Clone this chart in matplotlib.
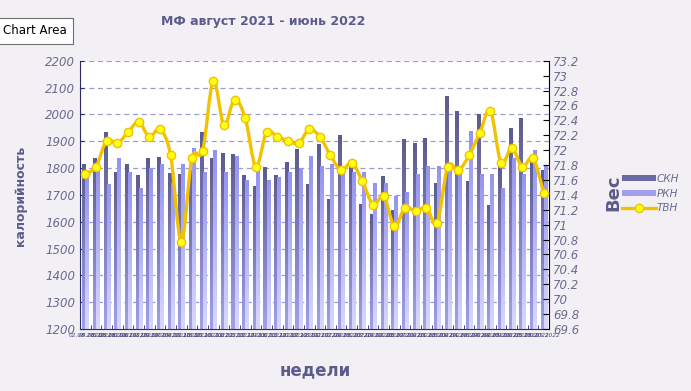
import numpy as np
import matplotlib
matplotlib.use("Agg")
import matplotlib.pyplot as plt
from matplotlib.path import Path
from matplotlib.patches import PathPatch, Patch
from matplotlib.lines import Line2D
from matplotlib.colors import LinearSegmentedColormap
from matplotlib.ticker import FuncFormatter, MultipleLocator

weeks = ["02.08.2021", "09.08.2021", "16.08.2021", "23.08.2021", "30.08.2021",
         "06.09.2021", "13.09.2021", "20.09.2021", "27.09.2021", "04.10.2021",
         "11.10.2021", "18.10.2021", "25.10.2021", "01.11.2021", "08.11.2021",
         "15.11.2021", "22.11.2021", "29.11.2021", "06.12.2021", "13.12.2021",
         "20.12.2021", "27.12.2021", "03.01.2022", "10.01.2022", "17.01.2022",
         "24.01.2022", "31.01.2022", "07.02.2022", "14.02.2022", "21.02.2022",
         "28.02.2022", "07.03.2022", "14.03.2022", "21.03.2022", "28.03.2022",
         "04.04.2022", "11.04.2022", "18.04.2022", "25.04.2022", "02.05.2022",
         "09.05.2022", "16.05.2022", "23.05.2022", "30.05.2022"]

skn = [1816, 1839, 1935, 1787, 1816, 1775, 1839, 1842, 1783, 1779,
       1810, 1935, 1839, 1857, 1853, 1775, 1735, 1805, 1775, 1824,
       1872, 1742, 1891, 1686, 1924, 1809, 1667, 1627, 1772, 1642,
       1909, 1894, 1913, 1746, 2069, 2013, 1753, 2000, 1664, 1809,
       1950, 1987, 1824, 1794]
rkn = [1770, 1795, 1739, 1839, 1787, 1727, 1800, 1816, 1746, 1816,
       1876, 1787, 1868, 1787, 1846, 1757, 1800, 1757, 1768, 1787,
       1801, 1846, 1809, 1816, 1790, 1787, 1787, 1746, 1746, 1697,
       1709, 1779, 1809, 1809, 1810, 1783, 1939, 1779, 1779, 1727,
       1839, 1779, 1868, 1809]
tvn = [71.68, 71.78, 72.13, 72.09, 72.24, 72.38, 72.18, 72.28, 71.93, 70.77,
       71.89, 71.99, 72.93, 72.34, 72.68, 72.43, 71.78, 72.24, 72.18, 72.13,
       72.09, 72.28, 72.18, 71.93, 71.73, 71.83, 71.58, 71.27, 71.38, 70.98,
       71.23, 71.18, 71.23, 71.02, 71.78, 71.73, 71.93, 72.23, 72.53, 71.83,
       72.03, 71.78, 71.89, 71.43]

bg = "#f2f0f4"
txt = "#5c5c8c"
tick_c = "#6a6a90"

fig = plt.figure(figsize=(6.91, 3.91), dpi=100, facecolor=bg)
ax = fig.add_axes([0.1158, 0.1586, 0.6787, 0.6859])
ax.set_facecolor("white")
ax2 = ax.twinx()

x = np.arange(len(weeks))
w = 0.29
dark_cm = LinearSegmentedColormap.from_list("d", ["#5c5c8e", "#a0a0e6"])
light_cm = LinearSegmentedColormap.from_list("l", ["#9494ee", "#d8d8ff"])
grad = np.linspace(0, 1, 64).reshape(-1, 1)

for vals, off, cm in [(skn, -w / 2, dark_cm), (rkn, w / 2, light_cm)]:
    bars = ax.bar(x + off, np.array(vals) - 1200, w, bottom=1200,
                  facecolor="none", edgecolor="none", zorder=2)
    for r in bars:
        x0, y0 = r.get_x(), r.get_y()
        im = ax.imshow(grad, cmap=cm, aspect="auto", interpolation="bilinear",
                       extent=[x0, x0 + r.get_width(), y0, y0 + r.get_height()],
                       origin="upper", zorder=2)
        im.set_clip_path(r)

ax.set_xlim(-0.5, len(weeks) - 0.5)
ax.set_ylim(1200, 2200)
ax.yaxis.set_major_locator(MultipleLocator(100))
ax.grid(axis="y", color="#9c9cd0", linestyle=(0, (4, 3)), lw=0.9, zorder=1)
ax.set_axisbelow(True)

# the week labels overlap in the original as well
ax.set_xticks(x)
ax.set_xticklabels(weeks, fontsize=4.2, style="italic", color="#4a4a7a")
ax.set_xticks(np.arange(len(weeks) + 1) - 0.5, minor=True)
ax.tick_params(axis="x", which="major", length=0, pad=3)
ax.tick_params(axis="x", which="minor", direction="in", length=3, color="#2a2a5a")
ax.tick_params(axis="y", direction="in", length=3, color="#2a2a5a",
               labelsize=8.5, labelcolor=tick_c)
for t in ax.get_yticklabels():
    t.set_style("italic")

for s in ["top", "right"]:
    ax.spines[s].set_visible(False)
ax.spines["left"].set_color("#2a2a6a")
ax.spines["bottom"].set_color("#2a2a6a")
ax2.spines["top"].set_visible(False)
ax2.spines["left"].set_visible(False)
ax2.spines["bottom"].set_visible(False)
ax2.spines["right"].set_color("black")

# smoothed line (Catmull-Rom style Bezier through the points)
y = np.array(tvn)
pts = np.column_stack([x, y])
verts = [pts[0]]
codes = [Path.MOVETO]
n = len(pts)
for i in range(n - 1):
    p0 = pts[max(i - 1, 0)]
    p1 = pts[i]
    p2 = pts[i + 1]
    p3 = pts[min(i + 2, n - 1)]
    verts += [p1 + (p2 - p0) / 6, p2 - (p3 - p1) / 6, p2]
    codes += [Path.CURVE4] * 3
ax2.add_patch(PathPatch(Path(verts, codes), facecolor="none",
                        edgecolor="#f2c200", lw=2.4, zorder=3))
ax2.plot(x, y, linestyle="none", marker="o", ms=6, mfc="#ffff10",
         mec="#f2c200", mew=1, zorder=4)

ax2.set_ylim(69.6, 73.2)
ax2.yaxis.set_major_locator(MultipleLocator(0.2))
ax2.yaxis.set_major_formatter(FuncFormatter(lambda v, p: f"{v:.1f}".rstrip("0").rstrip(".")))
ax2.tick_params(axis="y", direction="in", length=4.5, color="black",
                labelsize=8.5, labelcolor=tick_c, pad=3)
for t in ax2.get_yticklabels():
    t.set_style("italic")

fig.text(0.381, 0.944, "МФ август 2021 - июнь 2022", ha="center", va="center",
         fontsize=9, fontweight="bold", color=txt)
fig.text(0.029, 0.50, "калорийность", rotation=90, ha="center", va="center",
         fontsize=9, fontweight="bold", color=txt)
fig.text(0.456, 0.052, "недели", ha="center", va="center",
         fontsize=12, fontweight="bold", color=txt)
fig.text(0.887, 0.506, "Вес", rotation=90, ha="center", va="center",
         fontsize=13, fontweight="bold", color=txt)
fig.text(0.004, 0.921, "Chart Area", ha="left", va="center", fontsize=8.5,
         color="black",
         bbox=dict(boxstyle="square,pad=0.55", fc="white", ec="#707070", lw=0.8))

handles = [Patch(facecolor="#6a6aa0", edgecolor="none"),
           Patch(facecolor="#a0a0ee", edgecolor="none"),
           Line2D([], [], color="#f2c200", lw=2.4, marker="o", ms=6,
                  mfc="#ffff10", mec="#f2c200")]
leg = fig.legend(handles, ["СКН", "РКН", "ТВН"], loc="center left",
                 bbox_to_anchor=(0.893, 0.505), frameon=False, fontsize=7.5,
                 handlelength=3.2, handleheight=0.6, handletextpad=0.1,
                 labelspacing=0.45, borderpad=0)
for t in leg.get_texts():
    t.set_color(tick_c)
    t.set_style("italic")

fig.savefig("out.png", dpi=100, facecolor=bg)
